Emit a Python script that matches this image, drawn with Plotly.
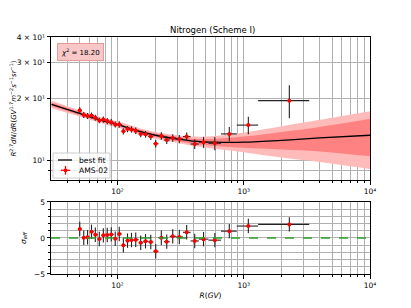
import plotly.graph_objects as go

# ---------------- data ----------------
R = [50.2, 54.0, 57.9, 62.2, 66.7, 71.7, 77.2, 82.9, 89.2, 95.9,
     103.2, 111.2, 120.0, 129.0, 139.4, 152.6, 166.6, 183.4, 200.7, 222.3,
     245.4, 273.7, 308.7, 353.0, 408.8, 480.0, 590.0, 768.0, 1087.0, 2296.0]
bin_lo = [48.5, 52.2, 56.1, 60.3, 64.8, 69.7, 74.9, 80.5, 86.5, 93.0,
          100, 108, 116, 125, 135, 147, 160, 175, 192, 211,
          233, 259, 291, 330, 379, 441, 525, 660, 880, 1300]
bin_hi = [52.2, 56.1, 60.3, 64.8, 69.7, 74.9, 80.5, 86.5, 93.0, 100,
          108, 116, 125, 135, 147, 160, 175, 192, 211, 233,
          259, 291, 330, 379, 441, 525, 660, 880, 1300, 3300]
flux = [17.6, 16.7, 16.5, 16.6, 16.2, 15.7, 15.85, 15.6, 15.4, 15.0,
        15.0, 13.9, 14.25, 14.2, 14.0, 13.5, 13.45, 13.1, 12.1, 13.2,
        12.6, 12.9, 12.75, 13.1, 12.05, 12.3, 12.15, 13.5, 14.9, 19.6]
flux_err_up = [0.6, 0.55, 0.55, 0.55, 0.55, 0.5, 0.55, 0.55, 0.55, 0.5,
               0.55, 0.5, 0.5, 0.5, 0.5, 0.5, 0.5, 0.5, 0.5, 0.55,
               0.55, 0.55, 0.6, 0.6, 0.65, 0.75, 0.9, 1.1, 1.45, 3.7]
flux_err_dn = [0.6, 0.55, 0.55, 0.55, 0.55, 0.5, 0.55, 0.55, 0.55, 0.5,
               0.55, 0.5, 0.5, 0.5, 0.5, 0.5, 0.5, 0.5, 0.5, 0.55,
               0.55, 0.55, 0.6, 0.6, 0.65, 0.75, 0.9, 1.1, 1.45, 3.5]
sigma_eff = [1.24, 0.04, 0.1, 0.87, 0.46, -0.14, 0.37, 0.41, 0.5, -0.1,
             0.55, -1.0, -0.37, -0.28, -0.24, -0.67, -0.45, -0.55, -1.84, 0.04,
             -0.51, 0.23, 0.14, 0.79, -0.41, -0.16, -0.3, 0.95, 1.66, 1.89]
sigma_err = [1.0] * 30

fit_R = [30, 50, 70, 100, 150, 200, 300, 400, 600, 1000, 2000, 4000, 10000]
fit_val = [18.8, 17.0, 15.9, 15.0, 13.9, 13.3, 12.75, 12.45, 12.3, 12.3, 12.55, 12.9, 13.3]
band1_hi = [19.2, 17.3, 16.15, 15.25, 14.15, 13.55, 13.05, 12.8, 12.8, 13.1, 13.8, 14.6, 16.0]
band1_lo = [18.4, 16.7, 15.65, 14.75, 13.65, 13.05, 12.45, 12.1, 11.8, 11.55, 11.35, 11.1, 10.5]
band2_hi = [19.6, 17.6, 16.4, 15.5, 14.4, 13.8, 13.3, 13.1, 13.2, 13.7, 14.7, 15.8, 17.4]
band2_lo = [18.0, 16.4, 15.4, 14.5, 13.4, 12.8, 12.2, 11.8, 11.4, 11.0, 10.35, 9.85, 9.1]

chi2_text = "18.20"
legend_labels = ["best fit", "AMS-02"]
x_major = [100, 1000, 10000]
x_major_text = ["10²", "10³", "10⁴"]
x_minor = [40, 50, 60, 70, 80, 90, 200, 300, 400, 500, 600, 700, 800, 900,
           2000, 3000, 4000, 5000, 6000, 7000, 8000, 9000]
y_major = [10, 20, 30, 40]
y_major_text = ["10¹", "2 × 10¹", "3 × 10¹", "4 × 10¹"]
y_minor = [9]

xerr_p = [h - r for h, r in zip(bin_hi, R)]
xerr_m = [r - l for r, l in zip(R, bin_lo)]

FONT = "DejaVu Sans"
GRID = "#b0b0b0"

fig = go.Figure()

# bands
fig.add_trace(go.Scatter(x=fit_R, y=band2_lo, mode="lines", line=dict(width=0, shape="spline"),
                         showlegend=False, hoverinfo="skip", xaxis="x", yaxis="y"))
fig.add_trace(go.Scatter(x=fit_R, y=band2_hi, mode="lines", line=dict(width=0, shape="spline"),
                         fill="tonexty", fillcolor="#ffbaba", showlegend=False, hoverinfo="skip",
                         xaxis="x", yaxis="y"))
fig.add_trace(go.Scatter(x=fit_R, y=band1_lo, mode="lines", line=dict(width=0, shape="spline"),
                         showlegend=False, hoverinfo="skip", xaxis="x", yaxis="y"))
fig.add_trace(go.Scatter(x=fit_R, y=band1_hi, mode="lines", line=dict(width=0, shape="spline"),
                         fill="tonexty", fillcolor="#ff8282", showlegend=False, hoverinfo="skip",
                         xaxis="x", yaxis="y"))
# best fit
fig.add_trace(go.Scatter(x=fit_R, y=fit_val, mode="lines", name=legend_labels[0],
                         line=dict(color="black", width=1.3, shape="spline"),
                         showlegend=False, xaxis="x", yaxis="y"))
# data
fig.add_trace(go.Scatter(
    x=R, y=flux, mode="markers", name=legend_labels[1], showlegend=False,
    marker=dict(color="red", size=4, symbol="circle"),
    error_y=dict(type="data", symmetric=False, array=flux_err_up, arrayminus=flux_err_dn,
                 color="#222222", thickness=1.1, width=0),
    error_x=dict(type="data", symmetric=False, array=xerr_p, arrayminus=xerr_m,
                 color="#222222", thickness=1.1, width=0),
    xaxis="x", yaxis="y"))
# residuals
fig.add_trace(go.Scatter(
    x=R, y=sigma_eff, mode="markers", showlegend=False,
    marker=dict(color="red", size=4, symbol="circle"),
    error_y=dict(type="data", array=sigma_err, color="#222222", thickness=1.1, width=0),
    error_x=dict(type="data", symmetric=False, array=xerr_p, arrayminus=xerr_m,
                 color="#222222", thickness=1.1, width=0),
    xaxis="x2", yaxis="y2"))

def xaxis_common(anchor):
    return dict(type="log", range=[1.473, 4.0], anchor=anchor, automargin=False,
                tickmode="array", tickvals=x_major, ticktext=x_major_text,
                ticks="outside", ticklen=3.5, tickwidth=0.8, tickcolor="black",
                showgrid=True, gridcolor=GRID, gridwidth=0.8,
                minor=dict(tickmode="array", tickvals=x_minor, ticks="outside", ticklen=2,
                           tickwidth=0.6, tickcolor="black", showgrid=True,
                           gridcolor=GRID, gridwidth=0.8),
                showline=True, linecolor="black", linewidth=1, mirror=True,
                zeroline=False, tickfont=dict(size=7.5, color="black", family=FONT))

xa = xaxis_common("y")
xa["domain"] = [0, 1]
xa2 = xaxis_common("y2")
xa2["domain"] = [0, 1]
xa2["title"] = dict(text="<i>R</i>(<i>GV</i>)", font=dict(size=7.5, family=FONT, color="black"),
                    standoff=4)

top_dom = [0.3966, 1.0]
bot_dom = [0.0, 0.3038]

# page body has an 8px margin, so the figure is 8px smaller and margins shifted
fig.update_layout(
    width=403, height=300,
    margin=dict(l=43, r=41, t=29, b=34, autoexpand=False),
    paper_bgcolor="white", plot_bgcolor="white",
    font=dict(family=FONT, color="black"),
    title=dict(text="Nitrogen (Scheme I)", x=0.508, xanchor="center", y=0.928, yanchor="middle",
               font=dict(size=8.5, family=FONT, color="black")),
    xaxis=xa, xaxis2=xa2,
    yaxis=dict(type="log", range=[0.906, 1.602], domain=top_dom, anchor="x", automargin=False,
               tickmode="array", tickvals=y_major, ticktext=y_major_text,
               ticks="outside", ticklen=3.5, tickwidth=0.8, tickcolor="black",
               showgrid=True, gridcolor=GRID, gridwidth=0.8,
               minor=dict(tickmode="array", tickvals=y_minor, ticks="outside", ticklen=2,
                          tickwidth=0.6, tickcolor="black", showgrid=True,
                          gridcolor=GRID, gridwidth=0.8),
               showline=True, linecolor="black", linewidth=1, mirror=True, zeroline=False,
               tickfont=dict(size=7.5, color="black", family=FONT),
               title=dict(text="<i>R</i><sup>2.7</sup><i>dN</i>/<i>dR</i>(<i>GV</i><sup>1.7</sup><i>m</i><sup>−2</sup><i>s</i><sup>−1</sup><i>sr</i><sup>−1</sup>)",
                          font=dict(size=7, family=FONT, color="black"), standoff=2)),
    yaxis2=dict(range=[-5, 5], domain=bot_dom, anchor="x2", automargin=False,
                tickmode="array", tickvals=[-5, 0, 5], ticktext=["−5", "0", "5"],
                ticks="outside", ticklen=3.5, tickwidth=0.8, tickcolor="black",
                showgrid=True, gridcolor=GRID, gridwidth=0.8,
                minor=dict(dtick=1, ticks="outside", ticklen=2, tickwidth=0.6, tickcolor="black",
                           showgrid=True, gridcolor=GRID, gridwidth=0.8),
                showline=True, linecolor="black", linewidth=1, mirror=True, zeroline=False,
                tickfont=dict(size=7.5, color="black", family=FONT),
                title=dict(text="<i>σ</i><sub><i>eff</i></sub>",
                           font=dict(size=7.5, family=FONT, color="black"), standoff=6)),
    showlegend=False,
)

fig.add_shape(type="line", xref="x2 domain", yref="y2", x0=0, x1=1, y0=0, y1=0,
              line=dict(color="#2ca02c", width=1.5, dash="dash"), layer="above")

fig.add_annotation(text="<i>χ</i><sup>2</sup> = " + chi2_text, xref="paper", yref="paper",
                   x=0.019, y=0.975, xanchor="left", yanchor="top", showarrow=False,
                   font=dict(size=7, family=FONT, color="black"),
                   bgcolor="#f8c8c8", bordercolor="#e89a9a", borderwidth=1, borderpad=3)

# compact matplotlib-style legend drawn in the top panel
fig.add_shape(type="rect", xref="paper", yref="paper", x0=0.0063, x1=0.185, y0=0.405, y1=0.5105,
              fillcolor="rgba(255,255,255,0.8)", line=dict(color="#cccccc", width=1), layer="above")
fig.add_shape(type="line", xref="paper", yref="paper", x0=0.022, x1=0.066, y0=0.481, y1=0.481,
              line=dict(color="black", width=1.3), layer="above")
fig.add_shape(type="line", xref="paper", yref="paper", x0=0.031, x1=0.060, y0=0.4376, y1=0.4376,
              line=dict(color="red", width=1.3), layer="above")
fig.add_shape(type="line", xref="paper", yref="paper", x0=0.0455, x1=0.0455, y0=0.419, y1=0.456,
              line=dict(color="red", width=1.3), layer="above")
fig.add_shape(type="circle", xref="paper", yref="paper", x0=0.0395, x1=0.0515, y0=0.4296, y1=0.4456,
              fillcolor="red", line=dict(color="red", width=0), layer="above")
fig.add_annotation(text=legend_labels[0], xref="paper", yref="paper", x=0.08, y=0.481,
                   xanchor="left", yanchor="middle", showarrow=False,
                   font=dict(size=7.6, family=FONT, color="black"))
fig.add_annotation(text=legend_labels[1], xref="paper", yref="paper", x=0.08, y=0.4376,
                   xanchor="left", yanchor="middle", showarrow=False,
                   font=dict(size=7.6, family=FONT, color="black"))

fig.write_html("out.html")
